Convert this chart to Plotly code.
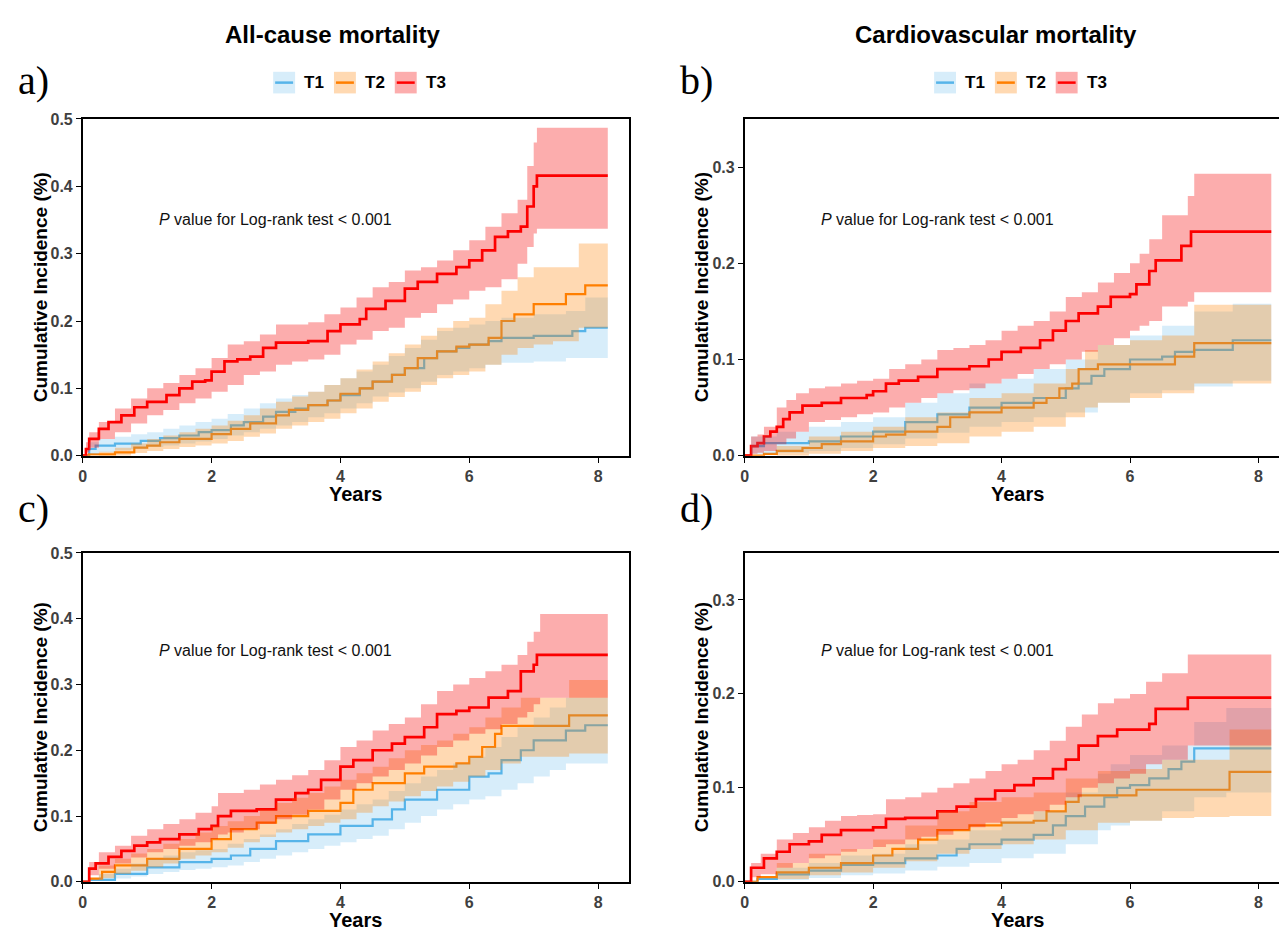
import plotly.graph_objects as go

W, H = 1279, 936

# ---------------- data ----------------
GROUPS = ["T1", "T2", "T3"]
LINE_COLORS = {"T1": "#56B4E9", "T2": "#FF7F00", "T3": "#FF0000"}
LINE_WIDTHS = {"T1": 2.2, "T2": 2.2, "T3": 2.7}
BAND_COLORS = {"T1": "rgba(86,180,233,0.24)", "T2": "rgba(255,128,0,0.30)", "T3": "rgba(245,0,0,0.32)"}

TITLES = ["All-cause mortality", "Cardiovascular mortality"]
PANEL_LABELS = ["a)", "b)", "c)", "d)"]
X_TICKS = [0, 2, 4, 6, 8]
Y_TICKS_AC = [0.0, 0.1, 0.2, 0.3, 0.4, 0.5]
Y_TICKS_CV = [0.0, 0.1, 0.2, 0.3]
P_TEXT = "<i>P</i> value for Log-rank test < 0.001"

# Panel a
A_T1_t = [0, 0.1, 0.2, 0.5, 0.9, 1.2, 1.5, 1.8, 2.0, 2.3, 2.5, 2.8, 3.0, 3.3, 3.5, 3.8, 4.0, 4.3, 4.5, 4.8, 5.0, 5.3, 5.5, 5.8, 6.0, 6.3, 6.5, 7.0, 7.6, 7.8, 8.15]
A_T1_est = [0, 0.01, 0.015, 0.018, 0.022, 0.026, 0.03, 0.035, 0.038, 0.045, 0.05, 0.058, 0.065, 0.07, 0.075, 0.082, 0.09, 0.1, 0.11, 0.12, 0.13, 0.145, 0.155, 0.16, 0.165, 0.17, 0.175, 0.178, 0.185, 0.19, 0.19]
A_T1_bt = [0, 0.1, 0.25, 0.5, 0.75, 1.0, 1.25, 1.5, 1.75, 2.0, 2.25, 2.5, 2.75, 3.0, 3.25, 3.5, 3.75, 4.0, 4.25, 4.5, 4.75, 5.0, 5.25, 5.5, 5.75, 6.0, 6.25, 6.5, 7.0, 7.5, 7.8, 8.15]
A_T1_lo = [0, 0.002, 0.005, 0.008, 0.01, 0.013, 0.015, 0.018, 0.021, 0.025, 0.03, 0.035, 0.04, 0.045, 0.05, 0.057, 0.063, 0.07, 0.078, 0.088, 0.094, 0.1, 0.11, 0.12, 0.125, 0.13, 0.135, 0.138, 0.14, 0.145, 0.145, 0.145]
A_T1_hi = [0, 0.02, 0.025, 0.028, 0.032, 0.035, 0.04, 0.045, 0.05, 0.055, 0.062, 0.07, 0.078, 0.085, 0.09, 0.095, 0.105, 0.115, 0.125, 0.135, 0.148, 0.16, 0.172, 0.185, 0.19, 0.195, 0.2, 0.205, 0.21, 0.215, 0.235, 0.235]

A_T2_t = [0, 0.1, 0.5, 0.8, 1.0, 1.2, 1.5, 2.0, 2.3, 2.6, 3.0, 3.2, 3.5, 3.8, 4.0, 4.3, 4.5, 4.8, 5.0, 5.2, 5.5, 5.8, 6.0, 6.3, 6.5, 6.7, 7.0, 7.5, 7.8, 8.15]
A_T2_est = [0, 0.002, 0.005, 0.012, 0.015, 0.02, 0.025, 0.032, 0.04, 0.048, 0.06, 0.068, 0.075, 0.082, 0.092, 0.1, 0.11, 0.12, 0.13, 0.145, 0.155, 0.162, 0.165, 0.175, 0.2, 0.21, 0.225, 0.24, 0.253, 0.253]
A_T2_bt = [0, 0.25, 0.5, 0.75, 1.0, 1.25, 1.5, 1.75, 2.0, 2.25, 2.5, 2.75, 3.0, 3.25, 3.5, 3.75, 4.0, 4.25, 4.5, 4.75, 5.0, 5.25, 5.5, 5.75, 6.0, 6.25, 6.5, 6.75, 7.0, 7.3, 7.7, 8.15]
A_T2_lo = [0, 0, 0.0, 0.004, 0.007, 0.01, 0.013, 0.015, 0.018, 0.022, 0.028, 0.033, 0.04, 0.045, 0.05, 0.055, 0.063, 0.07, 0.08, 0.087, 0.095, 0.105, 0.115, 0.12, 0.125, 0.135, 0.15, 0.16, 0.165, 0.17, 0.19, 0.19]
A_T2_hi = [0, 0.006, 0.012, 0.018, 0.025, 0.03, 0.035, 0.04, 0.045, 0.052, 0.06, 0.07, 0.08, 0.088, 0.095, 0.105, 0.115, 0.128, 0.14, 0.152, 0.165, 0.178, 0.19, 0.2, 0.205, 0.225, 0.245, 0.265, 0.28, 0.28, 0.315, 0.315]

A_T3_t = [0, 0.05, 0.1, 0.25, 0.4, 0.6, 0.8, 1.0, 1.3, 1.5, 1.7, 1.9, 2.0, 2.2, 2.4, 2.6, 2.8, 3.0, 3.5, 3.8, 4.0, 4.3, 4.4, 4.7, 5.0, 5.2, 5.5, 5.8, 6.0, 6.2, 6.4, 6.6, 6.8, 6.9, 7.0, 7.05, 8.15]
A_T3_est = [0, 0.01, 0.025, 0.04, 0.05, 0.06, 0.072, 0.08, 0.09, 0.1, 0.11, 0.112, 0.125, 0.14, 0.143, 0.147, 0.16, 0.168, 0.17, 0.185, 0.195, 0.203, 0.218, 0.23, 0.248, 0.258, 0.27, 0.28, 0.29, 0.305, 0.325, 0.333, 0.34, 0.37, 0.40, 0.416, 0.416]
A_T3_bt = [0, 0.05, 0.1, 0.25, 0.5, 0.75, 1.0, 1.25, 1.5, 1.75, 2.0, 2.25, 2.5, 2.75, 3.0, 3.25, 3.5, 3.75, 4.0, 4.25, 4.5, 4.75, 5.0, 5.25, 5.5, 5.75, 6.0, 6.25, 6.5, 6.75, 6.9, 7.0, 7.05, 8.15]
A_T3_lo = [0, 0.005, 0.012, 0.025, 0.035, 0.048, 0.06, 0.068, 0.078, 0.085, 0.095, 0.105, 0.12, 0.125, 0.135, 0.14, 0.143, 0.15, 0.165, 0.172, 0.185, 0.19, 0.205, 0.212, 0.225, 0.232, 0.245, 0.25, 0.262, 0.285, 0.31, 0.33, 0.337, 0.337]
A_T3_hi = [0, 0.02, 0.035, 0.05, 0.07, 0.085, 0.1, 0.108, 0.12, 0.13, 0.145, 0.165, 0.17, 0.18, 0.195, 0.195, 0.198, 0.21, 0.22, 0.235, 0.25, 0.258, 0.275, 0.28, 0.29, 0.305, 0.32, 0.34, 0.36, 0.38, 0.43, 0.465, 0.487, 0.487]

# Panel b
B_T1_t = [0, 0.1, 0.3, 1.0, 1.5, 2.0, 2.5, 3.0, 3.5, 4.0, 4.5, 5.0, 5.2, 5.4, 5.6, 6.0, 6.5, 6.7, 7.0, 7.6, 8.2]
B_T1_est = [0, 0.01, 0.013, 0.015, 0.02, 0.025, 0.035, 0.043, 0.05, 0.055, 0.06, 0.07, 0.075, 0.083, 0.09, 0.1, 0.103, 0.108, 0.11, 0.12, 0.12]
B_T1_bt = [0, 0.1, 0.5, 1.0, 1.5, 2.0, 2.5, 3.0, 3.5, 4.0, 4.5, 5.0, 5.5, 6.0, 6.5, 7.0, 7.6, 8.2]
B_T1_lo = [0, 0.002, 0.003, 0.005, 0.008, 0.012, 0.018, 0.024, 0.03, 0.035, 0.04, 0.045, 0.055, 0.065, 0.068, 0.072, 0.078, 0.078]
B_T1_hi = [0, 0.02, 0.025, 0.03, 0.035, 0.04, 0.055, 0.065, 0.075, 0.08, 0.09, 0.1, 0.115, 0.125, 0.135, 0.15, 0.158, 0.158]

B_T2_t = [0, 0.3, 0.5, 0.9, 1.2, 1.5, 2.0, 2.2, 2.5, 3.0, 3.2, 3.5, 4.0, 4.5, 4.7, 4.9, 5.1, 5.2, 5.5, 6.7, 7.0, 8.2]
B_T2_est = [0, 0.002, 0.005, 0.008, 0.012, 0.015, 0.02, 0.022, 0.025, 0.03, 0.04, 0.045, 0.05, 0.055, 0.06, 0.07, 0.075, 0.09, 0.095, 0.103, 0.117, 0.117]
B_T2_bt = [0, 0.5, 1.0, 1.5, 2.0, 2.5, 3.0, 3.5, 4.0, 4.5, 5.0, 5.3, 5.5, 6.0, 6.5, 7.0, 8.2]
B_T2_lo = [0, 0.0, 0.002, 0.005, 0.008, 0.01, 0.013, 0.02, 0.025, 0.03, 0.04, 0.05, 0.055, 0.06, 0.065, 0.075, 0.075]
B_T2_hi = [0, 0.01, 0.02, 0.025, 0.03, 0.04, 0.045, 0.06, 0.065, 0.075, 0.09, 0.11, 0.115, 0.12, 0.125, 0.157, 0.157]

B_T3_t = [0, 0.1, 0.2, 0.3, 0.4, 0.5, 0.6, 0.7, 0.9, 1.2, 1.5, 1.9, 2.0, 2.2, 2.4, 2.7, 3.0, 3.5, 3.8, 4.0, 4.3, 4.6, 4.8, 5.0, 5.2, 5.5, 5.7, 6.0, 6.1, 6.3, 6.4, 6.8, 6.95, 8.2]
B_T3_est = [0, 0.01, 0.013, 0.02, 0.025, 0.03, 0.038, 0.045, 0.052, 0.055, 0.06, 0.063, 0.067, 0.075, 0.078, 0.082, 0.09, 0.093, 0.1, 0.108, 0.112, 0.12, 0.13, 0.14, 0.148, 0.155, 0.165, 0.168, 0.178, 0.192, 0.203, 0.218, 0.233, 0.233]
B_T3_bt = [0, 0.1, 0.2, 0.3, 0.5, 0.65, 0.8, 1.0, 1.25, 1.5, 1.75, 2.0, 2.25, 2.5, 2.75, 3.0, 3.25, 3.5, 3.75, 4.0, 4.25, 4.5, 4.75, 5.0, 5.25, 5.5, 5.75, 6.0, 6.15, 6.3, 6.5, 6.9, 7.0, 8.2]
B_T3_lo = [0, 0.002, 0.003, 0.005, 0.012, 0.018, 0.025, 0.035, 0.037, 0.04, 0.043, 0.045, 0.05, 0.055, 0.06, 0.065, 0.068, 0.07, 0.075, 0.08, 0.085, 0.09, 0.095, 0.1, 0.108, 0.115, 0.122, 0.13, 0.135, 0.14, 0.155, 0.16, 0.17, 0.17]
B_T3_hi = [0, 0.02, 0.022, 0.03, 0.05, 0.058, 0.065, 0.07, 0.072, 0.075, 0.078, 0.08, 0.09, 0.095, 0.1, 0.11, 0.112, 0.115, 0.12, 0.13, 0.135, 0.14, 0.15, 0.165, 0.17, 0.18, 0.19, 0.2, 0.21, 0.225, 0.25, 0.27, 0.293, 0.293]

# Panel c
C_T1_t = [0, 0.1, 0.5, 1.0, 1.5, 2.0, 2.3, 2.6, 3.0, 3.5, 4.0, 4.5, 4.8, 5.0, 5.5, 6.0, 6.3, 6.5, 6.8, 7.0, 7.5, 7.8, 8.15]
C_T1_est = [0, 0.003, 0.012, 0.022, 0.03, 0.035, 0.04, 0.05, 0.062, 0.072, 0.085, 0.095, 0.11, 0.125, 0.14, 0.16, 0.165, 0.185, 0.2, 0.215, 0.23, 0.238, 0.238]
C_T1_bt = [0, 0.25, 0.5, 0.75, 1.0, 1.25, 1.5, 1.75, 2.0, 2.25, 2.5, 2.75, 3.0, 3.25, 3.5, 3.75, 4.0, 4.25, 4.5, 4.75, 5.0, 5.25, 5.5, 5.75, 6.0, 6.25, 6.5, 6.75, 7.0, 7.25, 7.5, 8.15]
C_T1_lo = [0, 0.002, 0.005, 0.008, 0.012, 0.015, 0.018, 0.02, 0.022, 0.025, 0.03, 0.035, 0.04, 0.045, 0.05, 0.055, 0.06, 0.065, 0.07, 0.08, 0.09, 0.1, 0.11, 0.118, 0.125, 0.13, 0.14, 0.15, 0.16, 0.17, 0.18, 0.18]
C_T1_hi = [0, 0.012, 0.02, 0.028, 0.035, 0.04, 0.045, 0.048, 0.05, 0.058, 0.065, 0.072, 0.08, 0.088, 0.095, 0.102, 0.11, 0.118, 0.125, 0.138, 0.15, 0.16, 0.17, 0.18, 0.19, 0.205, 0.22, 0.235, 0.25, 0.265, 0.28, 0.28]

C_T2_t = [0, 0.1, 0.3, 0.5, 1.0, 1.5, 2.0, 2.3, 2.7, 3.0, 3.5, 4.0, 4.2, 4.5, 5.0, 5.3, 5.8, 6.0, 6.2, 6.4, 6.5, 7.55, 8.15]
C_T2_est = [0, 0.005, 0.015, 0.025, 0.035, 0.05, 0.065, 0.08, 0.09, 0.1, 0.108, 0.12, 0.14, 0.15, 0.165, 0.175, 0.18, 0.19, 0.205, 0.225, 0.237, 0.253, 0.253]
C_T2_bt = [0, 0.25, 0.5, 0.75, 1.0, 1.25, 1.5, 1.75, 2.0, 2.25, 2.5, 2.75, 3.0, 3.25, 3.5, 3.75, 4.0, 4.25, 4.5, 4.75, 5.0, 5.25, 5.5, 5.75, 6.0, 6.25, 6.5, 6.8, 7.55, 8.15]
C_T2_lo = [0, 0.006, 0.012, 0.017, 0.022, 0.028, 0.035, 0.04, 0.045, 0.052, 0.06, 0.068, 0.075, 0.08, 0.085, 0.09, 0.095, 0.105, 0.115, 0.122, 0.13, 0.138, 0.145, 0.152, 0.16, 0.17, 0.18, 0.19, 0.195, 0.195]
C_T2_hi = [0, 0.025, 0.035, 0.043, 0.05, 0.058, 0.065, 0.075, 0.085, 0.092, 0.1, 0.11, 0.12, 0.128, 0.135, 0.145, 0.155, 0.165, 0.175, 0.188, 0.2, 0.208, 0.215, 0.225, 0.235, 0.25, 0.265, 0.28, 0.307, 0.307]

C_T3_t = [0, 0.1, 0.2, 0.4, 0.6, 0.8, 1.0, 1.2, 1.5, 1.8, 2.0, 2.1, 2.3, 2.7, 3.0, 3.3, 3.5, 3.7, 4.0, 4.2, 4.5, 4.8, 5.0, 5.3, 5.5, 5.8, 6.0, 6.3, 6.6, 6.8, 7.0, 7.05, 8.15]
C_T3_est = [0, 0.02, 0.028, 0.038, 0.047, 0.055, 0.06, 0.065, 0.072, 0.08, 0.085, 0.1, 0.108, 0.11, 0.125, 0.135, 0.14, 0.155, 0.175, 0.185, 0.2, 0.21, 0.22, 0.235, 0.255, 0.26, 0.265, 0.28, 0.29, 0.32, 0.33, 0.345, 0.345]
C_T3_bt = [0, 0.1, 0.25, 0.5, 0.75, 1.0, 1.25, 1.5, 1.75, 2.0, 2.1, 2.25, 2.5, 2.75, 3.0, 3.25, 3.5, 3.75, 4.0, 4.25, 4.5, 4.75, 5.0, 5.25, 5.5, 5.75, 6.0, 6.25, 6.5, 6.75, 6.9, 7.0, 7.1, 8.15]
C_T3_lo = [0, 0.01, 0.02, 0.028, 0.037, 0.045, 0.05, 0.055, 0.06, 0.065, 0.072, 0.075, 0.08, 0.088, 0.095, 0.102, 0.11, 0.125, 0.14, 0.15, 0.16, 0.17, 0.18, 0.192, 0.205, 0.215, 0.225, 0.232, 0.24, 0.25, 0.258, 0.27, 0.28, 0.28]
C_T3_hi = [0, 0.03, 0.045, 0.055, 0.07, 0.08, 0.088, 0.095, 0.105, 0.115, 0.135, 0.135, 0.14, 0.148, 0.155, 0.162, 0.17, 0.185, 0.205, 0.215, 0.23, 0.24, 0.25, 0.27, 0.29, 0.3, 0.31, 0.32, 0.33, 0.345, 0.365, 0.38, 0.407, 0.407]

# Panel d
D_T1_t = [0, 0.2, 0.5, 1.0, 1.5, 2.0, 2.5, 3.0, 3.3, 3.5, 4.0, 4.5, 4.8, 5.0, 5.3, 5.6, 5.8, 6.0, 6.3, 6.6, 6.8, 7.0, 8.2]
D_T1_est = [0, 0.003, 0.008, 0.012, 0.018, 0.02, 0.025, 0.028, 0.035, 0.04, 0.045, 0.05, 0.06, 0.07, 0.08, 0.09, 0.1, 0.103, 0.11, 0.12, 0.128, 0.142, 0.142]
D_T1_bt = [0, 0.5, 1.0, 1.5, 2.0, 2.5, 3.0, 3.5, 4.0, 4.5, 5.0, 5.5, 5.7, 6.0, 6.5, 7.0, 7.5, 8.2]
D_T1_lo = [0, 0.002, 0.004, 0.007, 0.009, 0.012, 0.016, 0.02, 0.025, 0.03, 0.04, 0.055, 0.06, 0.065, 0.075, 0.09, 0.095, 0.095]
D_T1_hi = [0, 0.015, 0.02, 0.028, 0.03, 0.04, 0.045, 0.055, 0.065, 0.075, 0.095, 0.115, 0.125, 0.135, 0.145, 0.17, 0.185, 0.185]

D_T2_t = [0, 0.2, 0.5, 1.0, 1.5, 2.0, 2.3, 2.7, 3.0, 3.5, 4.0, 4.5, 4.7, 5.0, 5.2, 6.1, 7.55, 8.2]
D_T2_est = [0, 0.005, 0.01, 0.015, 0.02, 0.028, 0.035, 0.045, 0.055, 0.06, 0.063, 0.065, 0.075, 0.085, 0.092, 0.098, 0.117, 0.117]
D_T2_bt = [0, 0.5, 1.0, 1.5, 2.0, 2.5, 3.0, 3.5, 4.0, 4.5, 5.0, 5.5, 6.0, 6.5, 7.0, 7.55, 8.2]
D_T2_lo = [0, 0.003, 0.007, 0.01, 0.015, 0.022, 0.03, 0.035, 0.04, 0.045, 0.055, 0.063, 0.065, 0.068, 0.069, 0.07, 0.07]
D_T2_hi = [0, 0.02, 0.03, 0.035, 0.045, 0.06, 0.075, 0.085, 0.09, 0.095, 0.11, 0.118, 0.12, 0.13, 0.13, 0.162, 0.162]

D_T3_t = [0, 0.1, 0.3, 0.5, 0.7, 1.0, 1.2, 1.5, 2.0, 2.2, 2.5, 3.0, 3.3, 3.6, 3.9, 4.2, 4.5, 4.8, 5.0, 5.2, 5.5, 5.8, 6.3, 6.4, 6.9, 8.2]
D_T3_est = [0, 0.015, 0.025, 0.032, 0.04, 0.043, 0.05, 0.055, 0.058, 0.067, 0.068, 0.075, 0.08, 0.088, 0.097, 0.103, 0.11, 0.12, 0.13, 0.145, 0.155, 0.162, 0.168, 0.184, 0.196, 0.196]
D_T3_bt = [0, 0.1, 0.25, 0.5, 0.75, 1.0, 1.25, 1.5, 1.75, 2.0, 2.2, 2.5, 2.75, 3.0, 3.25, 3.5, 3.75, 4.0, 4.25, 4.5, 4.75, 5.0, 5.25, 5.5, 5.75, 6.0, 6.25, 6.5, 6.9, 8.2]
D_T3_lo = [0, 0.005, 0.008, 0.015, 0.02, 0.025, 0.028, 0.032, 0.035, 0.037, 0.04, 0.045, 0.048, 0.05, 0.055, 0.058, 0.063, 0.068, 0.072, 0.075, 0.082, 0.09, 0.1, 0.105, 0.11, 0.115, 0.125, 0.13, 0.145, 0.145]
D_T3_hi = [0, 0.02, 0.03, 0.045, 0.052, 0.058, 0.065, 0.07, 0.071, 0.072, 0.088, 0.09, 0.095, 0.1, 0.105, 0.11, 0.118, 0.125, 0.13, 0.14, 0.15, 0.165, 0.178, 0.19, 0.195, 0.2, 0.213, 0.222, 0.242, 0.242]

PANEL_DATA = {
    "a": {"T1": (A_T1_t, A_T1_est, A_T1_bt, A_T1_lo, A_T1_hi),
          "T2": (A_T2_t, A_T2_est, A_T2_bt, A_T2_lo, A_T2_hi),
          "T3": (A_T3_t, A_T3_est, A_T3_bt, A_T3_lo, A_T3_hi)},
    "b": {"T1": (B_T1_t, B_T1_est, B_T1_bt, B_T1_lo, B_T1_hi),
          "T2": (B_T2_t, B_T2_est, B_T2_bt, B_T2_lo, B_T2_hi),
          "T3": (B_T3_t, B_T3_est, B_T3_bt, B_T3_lo, B_T3_hi)},
    "c": {"T1": (C_T1_t, C_T1_est, C_T1_bt, C_T1_lo, C_T1_hi),
          "T2": (C_T2_t, C_T2_est, C_T2_bt, C_T2_lo, C_T2_hi),
          "T3": (C_T3_t, C_T3_est, C_T3_bt, C_T3_lo, C_T3_hi)},
    "d": {"T1": (D_T1_t, D_T1_est, D_T1_bt, D_T1_lo, D_T1_hi),
          "T2": (D_T2_t, D_T2_est, D_T2_bt, D_T2_lo, D_T2_hi),
          "T3": (D_T3_t, D_T3_est, D_T3_bt, D_T3_lo, D_T3_hi)},
}

# ---------------- layout geometry (pixels) ----------------
def fx(px):
    return px / W

def fy(py):
    return 1 - py / H

PANELS = {
    # key: (axis suffix, left px, right px, top px, bottom px, x range max, y max, yticks, full right border)
    "a": ("", 79, 627, 113, 456, 8.48, 0.5, Y_TICKS_AC, True),
    "b": ("2", 743, 1279, 113, 456, 8.32, 0.35, Y_TICKS_CV, False),
    "c": ("3", 79, 627, 555, 890, 8.48, 0.5, Y_TICKS_AC, True),
    "d": ("4", 743, 1279, 555, 890, 8.32, 0.35, Y_TICKS_CV, False),
}

BOLD = "Liberation Sans, Arial, sans-serif"
TICK_FONT = dict(family=BOLD, size=16, color="#404040")

fig = go.Figure()

for key, (sfx, l, r, t, b, xmax, ymax, yticks, full) in PANELS.items():
    xa = "x" + sfx
    ya = "y" + sfx
    data = PANEL_DATA[key]
    # step lines first
    for g in GROUPS:
        tt, est, bt, lo, hi = data[g]
        fig.add_trace(go.Scatter(x=tt, y=est, mode="lines",
                                 line=dict(color=LINE_COLORS[g], width=LINE_WIDTHS[g], shape="hv"),
                                 xaxis=xa, yaxis=ya, showlegend=False, hoverinfo="skip"))
    # confidence ribbons over the lines
    for g in GROUPS:
        tt, est, bt, lo, hi = data[g]
        fig.add_trace(go.Scatter(x=bt, y=lo, mode="lines", line=dict(width=0, shape="hv"),
                                 xaxis=xa, yaxis=ya, showlegend=False, hoverinfo="skip"))
        fig.add_trace(go.Scatter(x=bt, y=hi, mode="lines", line=dict(width=0, shape="hv"),
                                 fill="tonexty", fillcolor=BAND_COLORS[g],
                                 xaxis=xa, yaxis=ya, showlegend=False, hoverinfo="skip"))

    xkey = "xaxis" + sfx
    ykey = "yaxis" + sfx
    fig.update_layout(**{
        xkey: dict(domain=[fx(l), fx(r)], range=[0, xmax], anchor=ya, tickvals=X_TICKS,
                   ticktext=[f"<b>{v}</b>" for v in X_TICKS], showgrid=False, zeroline=False,
                   showline=True, linecolor="black", linewidth=1.6, mirror=True,
                   ticks="outside", ticklen=5, tickwidth=1.3, tickcolor="black",
                   tickfont=TICK_FONT),
        ykey: dict(domain=[fy(b), fy(t)], range=[0, ymax], anchor=xa, tickvals=yticks,
                   ticktext=[f"<b>{v:.1f}</b>" for v in yticks], showgrid=False, zeroline=False,
                   showline=True, linecolor="black", linewidth=1.6, mirror=full,
                   ticks="outside", ticklen=5, tickwidth=1.3, tickcolor="black",
                   tickfont=TICK_FONT),
    })

    # P value annotation
    fig.add_annotation(x=1.15, y=ymax * 0.702, xref=xa, yref=ya, text=P_TEXT, showarrow=False,
                       xanchor="left", yanchor="middle",
                       font=dict(family=BOLD, size=16, color="#111"))
    # axis titles
    fig.add_annotation(x=fx((l + l + 548) / 2), y=fy(b + 39), xref="paper", yref="paper", text="<b>Years</b>",
                       showarrow=False, xanchor="center", yanchor="middle",
                       font=dict(family=BOLD, size=20, color="black"))
    fig.add_annotation(x=fx(l - 43), y=fy((t + b) / 2), xref="paper", yref="paper",
                       text="<b>Cumulative Incidence (%)</b>", textangle=-90, showarrow=False,
                       xanchor="center", yanchor="middle",
                       font=dict(family=BOLD, size=19, color="black"))

# Panel letters
for lab, (px, py) in zip(PANEL_LABELS, [(30, 74), (695, 74), (30, 510), (695, 510)]):
    fig.add_annotation(x=fx(px), y=fy(py), xref="paper", yref="paper", text=lab, showarrow=False,
                       xanchor="center", yanchor="middle",
                       font=dict(family="Liberation Serif, Times New Roman, serif", size=40, color="black"))

# Column titles
for txt, cx in zip(TITLES, [330, 995]):
    fig.add_annotation(x=fx(cx), y=fy(27), xref="paper", yref="paper", text=f"<b>{txt}</b>", showarrow=False,
                       xanchor="center", yanchor="middle",
                       font=dict(family=BOLD, size=24, color="black"))

# Legends (drawn keys)
for x0 in [270, 933]:
    for i, g in enumerate(GROUPS):
        bx = x0 + i * 61
        fig.add_shape(type="rect", xref="paper", yref="paper", x0=fx(bx), x1=fx(bx + 22), y0=fy(87), y1=fy(65),
                      fillcolor=BAND_COLORS[g], line=dict(width=0))
        fig.add_shape(type="line", xref="paper", yref="paper", x0=fx(bx + 2), x1=fx(bx + 20), y0=fy(76), y1=fy(76),
                      line=dict(color=LINE_COLORS[g], width=2.5))
        fig.add_annotation(x=fx(bx + 29), y=fy(76), xref="paper", yref="paper", text=f"<b>{g}</b>",
                           showarrow=False, xanchor="left", yanchor="middle",
                           font=dict(family=BOLD, size=17, color="black"))

fig.update_layout(width=W, height=H, margin=dict(l=0, r=0, t=0, b=0), autosize=False,
                  paper_bgcolor="white", plot_bgcolor="white", showlegend=False)

fig.write_html("out.html", config={"displayModeBar": False},
               post_script="document.body.style.margin='0';document.body.style.overflow='hidden';")
